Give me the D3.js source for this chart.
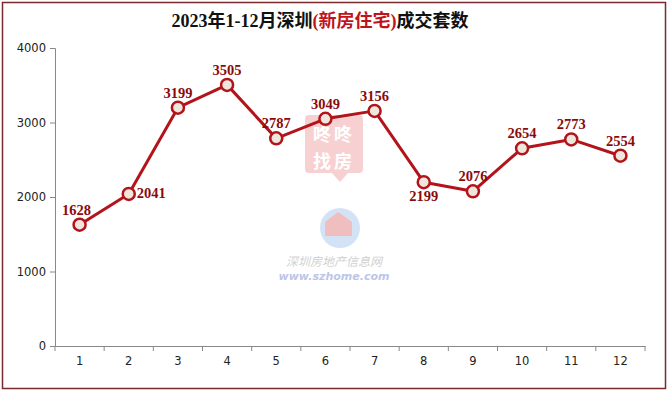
<!DOCTYPE html>
<html>
<head>
<meta charset="utf-8">
<script src="https://cdn.jsdelivr.net/npm/d3@7"></script>
<style>
  body { margin: 0; background: #fff; }
  svg { display: block; }
</style>
</head>
<body>
<svg id="screen" width="669" height="393"></svg>
<script>
const screenEl = document.querySelector("#screen");

// data
const months = ["1","2","3","4","5","6","7","8","9","10","11","12"];
const sales = [1628, 2041, 3199, 3505, 2787, 3049, 3156, 2199, 2076, 2654, 2773, 2554];
const labelPlace = ["above","right","above","above","above","above","above","below","above","above","above","above"];
const yTicks = [0, 1000, 2000, 3000, 4000];

// settings
const plotLeft = 55, plotRight = 645, plotTop = 48, plotBottom = 346;
const lineColor = "#b3141b";
const labelColor = "#8b0a0a";

var svg = d3.select(screenEl);

// outer frame
svg.append("rect").attr("x",2.5).attr("y",2.5).attr("width",663).attr("height",386)
.attr("fill","#fff").attr("stroke","#7a2a2a").attr("stroke-width",1.5);

// title
var title = svg.append("text").attr("x",320).attr("y",27).attr("text-anchor","middle")
.attr("font-family","'Liberation Serif','Noto Sans CJK SC',serif").attr("font-weight","bold")
.attr("font-size",18).attr("fill","#111");
title.append("tspan").text("2023年1-12月深圳");
title.append("tspan").attr("fill","#c0141b").text("(新房住宅)");
title.append("tspan").text("成交套数");

var x = d3.scaleBand().domain(months).range([plotLeft,plotRight]);
var y = d3.scaleLinear().domain([0,4000]).range([plotBottom,plotTop]);

// watermark
var wm = svg.append("g").attr("opacity",0.45);
wm.append("rect").attr("x",305).attr("y",115).attr("width",58).attr("height",58).attr("rx",4)
.attr("fill","#ee9a9a");
wm.append("path").attr("d","M332,173 L340,182 L348,173 Z").attr("fill","#ee9a9a");
wm.append("text").attr("x",334).attr("y",141).attr("text-anchor","middle")
.attr("font-family","'Noto Sans CJK SC'").attr("font-weight","bold").attr("font-size",18)
.attr("letter-spacing",3).attr("fill","#fff").text("咚咚");
wm.append("text").attr("x",334).attr("y",168).attr("text-anchor","middle")
.attr("font-family","'Noto Sans CJK SC'").attr("font-weight","bold").attr("font-size",18)
.attr("letter-spacing",3).attr("fill","#fff").text("找房");
wm.append("circle").attr("cx",340).attr("cy",228).attr("r",20).attr("fill","#9fc3ea");
wm.append("path").attr("d","M325,236 L325,222 L338,212 L352,222 L352,236 Z").attr("fill","#e07070");
wm.append("text").attr("x",334).attr("y",266).attr("text-anchor","middle")
.attr("font-family","'Noto Sans CJK SC'").attr("font-style","italic").attr("font-size",12)
.attr("fill","#999").text("深圳房地产信息网");
wm.append("text").attr("x",334).attr("y",280).attr("text-anchor","middle")
.attr("font-family","'DejaVu Sans'").attr("font-style","italic").attr("font-weight","bold").attr("font-size",11)
.attr("fill","#6a7fd0").text("www.szhome.com");

// axes
var yAxis = svg.append("g").attr("transform","translate("+plotLeft+",0)")
.call(d3.axisLeft(y).tickValues(yTicks).tickFormat(d3.format("d")).tickSize(5).tickPadding(4));
var xAxis = svg.append("g").attr("transform","translate(0,"+plotBottom+")")
.call(d3.axisBottom(x).tickSize(0).tickPadding(11));

[yAxis, xAxis].forEach(function(a){
    a.select(".domain").attr("stroke","#888");
    a.selectAll(".tick line").attr("stroke","#888");
    a.selectAll("text").attr("font-family","'DejaVu Sans',sans-serif").attr("font-size",11.5).attr("fill","#222");
});

// x tick marks at category boundaries
svg.append("g").selectAll("line").data(months).join("line")
.attr("x1",d => x(d)+x.bandwidth()).attr("x2",d => x(d)+x.bandwidth())
.attr("y1",plotBottom).attr("y2",plotBottom+5).attr("stroke","#888");
svg.append("line").attr("x1",plotLeft).attr("x2",plotLeft).attr("y1",plotBottom).attr("y2",plotBottom+5).attr("stroke","#888");

// line
var cx = d => x(d)+x.bandwidth()/2;
var line = d3.line().x((d,i) => cx(months[i])).y(d => y(d));
svg.append("path").datum(sales).attr("d",line)
.attr("fill","none").attr("stroke",lineColor).attr("stroke-width",3).attr("stroke-linejoin","round");

svg.append("g").selectAll("circle").data(sales).join("circle")
.attr("cx",(d,i) => cx(months[i])).attr("cy",d => y(d)).attr("r",6)
.attr("fill","#efe6dc").attr("stroke",lineColor).attr("stroke-width",2.5);

// value labels
svg.append("g").selectAll("text").data(sales).join("text")
.attr("x",(d,i) => {
    var p = labelPlace[i];
    if (p == "right") return cx(months[i]) + 8;
    return cx(months[i]) + (i == 0 ? -3 : 0);
})
.attr("y",(d,i) => {
    var p = labelPlace[i];
    if (p == "right") return y(d) + 4;
    if (p == "below") return y(d) + 19;
    return y(d) - 10;
})
.attr("text-anchor",(d,i) => labelPlace[i] == "right" ? "start" : "middle")
.attr("font-family","'Liberation Serif',serif").attr("font-weight","bold").attr("font-size",14.5)
.attr("fill",labelColor).text(d => d);
</script>
</body>
</html>
